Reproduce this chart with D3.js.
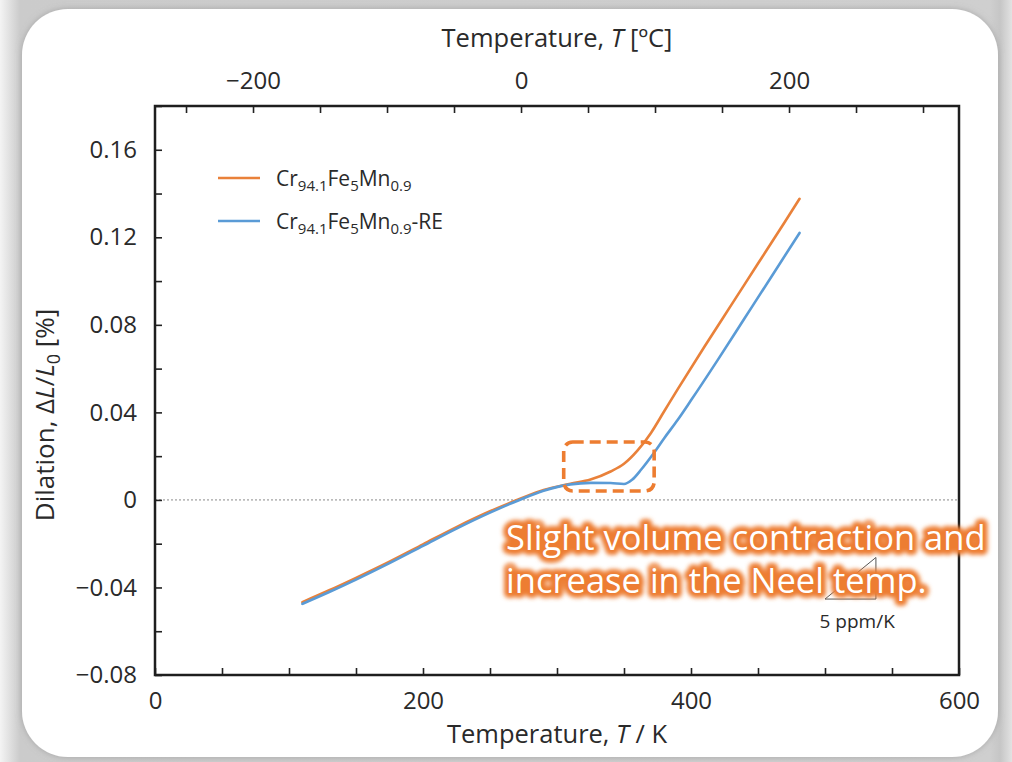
<!DOCTYPE html>
<html>
<head>
<meta charset="utf-8">
<script src="https://cdn.jsdelivr.net/npm/d3@7"></script>
<style>
html, body { margin: 0; padding: 0; }
body {
    width: 1012px; height: 762px; overflow: hidden;
    background: linear-gradient(90deg, #f4f4f4 0px, #cbcbcb 20px, #cfcfcf 990px, #c6c6c6 1000px, #e2e2e2 1012px);
    font-family: "Open Sans", sans-serif;
}
svg { display: block; }
.axis text { font-family: "Open Sans", sans-serif; font-size: 24px; fill: #2a2a2a; }
.axis line { stroke: #222; stroke-width: 1.6; }
</style>
</head>
<body>
<svg id="chart" width="1012" height="762"></svg>
<script>
// series: temperature in K, dilation in %
var tempOrange = [110, 130, 150, 175, 200, 225, 250, 272, 290, 310, 325, 340, 350, 360, 370, 380, 390, 410, 430, 450, 470, 481];
var dilOrange  = [-0.0467, -0.0413, -0.0356, -0.0282, -0.0203, -0.0124, -0.0052, 0.0004, 0.0045, 0.0074, 0.0093, 0.0130, 0.0165, 0.0225, 0.0305, 0.0405, 0.0505, 0.0700, 0.0890, 0.1080, 0.1270, 0.1376];

var tempBlue = [110, 130, 150, 175, 200, 225, 250, 272, 290, 310, 325, 340, 350, 356, 363, 372, 380, 390, 400, 420, 440, 460, 481];
var dilBlue  = [-0.0475, -0.0421, -0.0364, -0.0289, -0.0210, -0.0131, -0.0058, 0.0000, 0.0042, 0.0071, 0.0078, 0.0077, 0.0073, 0.0092, 0.0140, 0.0212, 0.0282, 0.0365, 0.0455, 0.0640, 0.0830, 0.1020, 0.1220];

var seriesNames = ["orange", "blue"];
var seriesColors = ["#E9813A", "#5A9BD6"];

var xTicksK = d3.range(0, 601, 50);
var xLabelsK = [0, 200, 400, 600];
var xTicksC = d3.range(-250, 301, 50);
var xLabelsC = [-200, 0, 200];
var yTicks = d3.range(-8, 19, 2).map(function(v) { return v / 100; });

// annotation bits, in data units
var boxT = [305, 372.5], boxV = [0.0041, 0.0265];
var slopeT = [500, 538], slopeBase = -0.0453, slopePpm = 5;
var noteLines = ["Slight volume contraction and", "increase in the Neel temp."];

var svg = d3.select("#chart");

var defs = svg.append("defs");
var sh = defs.append("filter").attr("id", "cardShadow").attr("x", "-5%").attr("y", "-5%").attr("width", "110%").attr("height", "110%");
sh.append("feDropShadow").attr("dx", 0).attr("dy", 0).attr("stdDeviation", 3).attr("flood-color", "#888").attr("flood-opacity", 0.6);
var glow = defs.append("filter").attr("id", "glow").attr("x", "-10%").attr("y", "-30%").attr("width", "120%").attr("height", "160%");
glow.append("feGaussianBlur").attr("stdDeviation", 2);

// white card
svg.append("rect")
    .attr("x", 22).attr("y", 9).attr("width", 976).attr("height", 748)
    .attr("rx", 46).attr("ry", 46)
    .attr("fill", "#fff")
    .attr("filter", "url(#cardShadow)");

var x = d3.scaleLinear().domain([0, 600]).range([155, 959]);
var xC = d3.scaleLinear().domain([-273.15, 326.85]).range([155, 959]);
var y = d3.scaleLinear().domain([-0.08, 0.18]).range([675, 106]);

// zero line
svg.append("line")
    .attr("x1", x(0)).attr("x2", x(600))
    .attr("y1", y(0)).attr("y2", y(0))
    .attr("stroke", "#8a8a8a").attr("stroke-width", 1)
    .attr("stroke-dasharray", "2,2");

// axes
var gB = svg.append("g").attr("class", "axis").attr("transform", "translate(0," + y(-0.08) + ")")
    .call(d3.axisBottom(x).tickValues(xTicksK).tickSize(-7).tickPadding(17)
        .tickFormat(function(d) { return xLabelsK.indexOf(d) >= 0 ? d : ""; }));
var gT = svg.append("g").attr("class", "axis").attr("transform", "translate(0," + y(0.18) + ")")
    .call(d3.axisTop(xC).tickValues(xTicksC).tickSize(-7).tickPadding(17)
        .tickFormat(function(d) { return xLabelsC.indexOf(d) >= 0 ? d3.format("d")(d) : ""; }));
var gL = svg.append("g").attr("class", "axis").attr("transform", "translate(" + x(0) + ",0)")
    .call(d3.axisLeft(y).tickValues(yTicks).tickSize(-7).tickPadding(18)
        .tickFormat(function(d) {
            var k = Math.round(d * 100);
            if (k % 4 !== 0) return "";
            return k === 0 ? "0" : d3.format(".2f")(d);
        }));
[gB, gT, gL].forEach(function(g) { g.select(".domain").remove(); });

// frame
svg.append("rect")
    .attr("x", x(0)).attr("y", y(0.18))
    .attr("width", x(600) - x(0)).attr("height", y(-0.08) - y(0.18))
    .attr("fill", "none").attr("stroke", "#1e1e1e").attr("stroke-width", 2.5);

// axis titles
svg.append("text")
    .attr("x", (x(0) + x(600)) / 2).attr("y", 47)
    .attr("text-anchor", "middle").attr("font-size", 25.5).attr("fill", "#2a2a2a")
    .call(function(t) {
        t.append("tspan").text("Temperature, ");
        t.append("tspan").attr("font-style", "italic").text("T");
        t.append("tspan").text(" [ºC]");
    });
svg.append("text")
    .attr("x", (x(0) + x(600)) / 2).attr("y", 743)
    .attr("text-anchor", "middle").attr("font-size", 25.5).attr("fill", "#2a2a2a")
    .call(function(t) {
        t.append("tspan").text("Temperature, ");
        t.append("tspan").attr("font-style", "italic").text("T");
        t.append("tspan").text(" / K");
    });
svg.append("text")
    .attr("transform", "translate(54,415) rotate(-90)")
    .attr("text-anchor", "middle").attr("font-size", 26).attr("fill", "#2a2a2a")
    .call(function(t) {
        t.append("tspan").text("Dilation, Δ");
        t.append("tspan").attr("font-style", "italic").text("L");
        t.append("tspan").text("/");
        t.append("tspan").attr("font-style", "italic").text("L");
        t.append("tspan").attr("font-size", 18).attr("dy", 6).text("0");
        t.append("tspan").attr("dy", -6).text(" [%]");
    });

// curves
var line = d3.line()
    .x(function(d) { return x(d[0]); })
    .y(function(d) { return y(d[1]); })
    .curve(d3.curveMonotoneX);

var seriesData = [
    d3.zip(tempOrange, dilOrange),
    d3.zip(tempBlue, dilBlue)
];
svg.append("g").selectAll("path")
    .data(seriesData)
    .enter().append("path")
    .attr("d", line)
    .attr("fill", "none")
    .attr("stroke", function(d, i) { return seriesColors[i]; })
    .attr("stroke-width", 2.6)
    .attr("stroke-linecap", "round");

// legend
function formula(t, suffix)
{
    var parts = [["Cr", 0], ["94.1", 1], ["Fe", 0], ["5", 1], ["Mn", 0], ["0.9", 1]];
    if (suffix) parts.push([suffix, 0]);
    var prev = 0;
    parts.forEach(function(p) {
        var shift = (p[1] - prev) * 5;
        t.append("tspan")
            .attr("font-size", p[1] ? 15 : 21)
            .attr("dy", shift)
            .text(p[0]);
        prev = p[1];
    });
}
var legend = svg.append("g");
seriesNames.forEach(function(name, i) {
    var ly = 178 + i * 43;
    legend.append("line")
        .attr("x1", 218).attr("x2", 260).attr("y1", ly).attr("y2", ly)
        .attr("stroke", seriesColors[i]).attr("stroke-width", 2.6);
    legend.append("text")
        .attr("x", 276).attr("y", ly + 8)
        .attr("fill", "#2a2a2a")
        .call(formula, i === 1 ? "-RE" : null);
});

// dashed highlight box
svg.append("rect")
    .attr("x", x(boxT[0])).attr("y", y(boxV[1]))
    .attr("width", x(boxT[1]) - x(boxT[0]))
    .attr("height", y(boxV[0]) - y(boxV[1]))
    .attr("rx", 9).attr("ry", 9)
    .attr("fill", "none")
    .attr("stroke", "#ED7D31").attr("stroke-width", 3.6)
    .attr("stroke-dasharray", "11,6");

// slope triangle 5 ppm/K (=5e-4 %/K)
var slopeTop = slopeBase + (slopeT[1] - slopeT[0]) * slopePpm * 1e-4;
svg.append("path")
    .attr("d", "M" + x(slopeT[0]) + "," + y(slopeBase) +
               "L" + x(slopeT[1]) + "," + y(slopeBase) +
               "L" + x(slopeT[1]) + "," + y(slopeTop) + "Z")
    .attr("fill", "none").attr("stroke", "#555").attr("stroke-width", 1);
svg.append("text")
    .attr("x", x(slopeT[0] + 24)).attr("y", y(slopeBase) + 29)
    .attr("text-anchor", "middle").attr("font-size", 19).attr("fill", "#2a2a2a")
    .text(slopePpm + " ppm/K");

// annotation note
var note = svg.append("g");
noteLines.forEach(function(s, i) {
    var nx = x(262), ny = y(-0.0228) + i * 43;
    note.append("text")
        .attr("x", nx).attr("y", ny)
        .attr("font-size", 34.5)
        .attr("fill", "#ED7D31").attr("stroke", "#ED7D31")
        .attr("stroke-width", 10).attr("stroke-linejoin", "round")
        .attr("filter", "url(#glow)")
        .text(s);
    note.append("text")
        .attr("x", nx).attr("y", ny)
        .attr("font-size", 34.5)
        .attr("fill", "#fff")
        .text(s);
});
</script>
</body>
</html>
